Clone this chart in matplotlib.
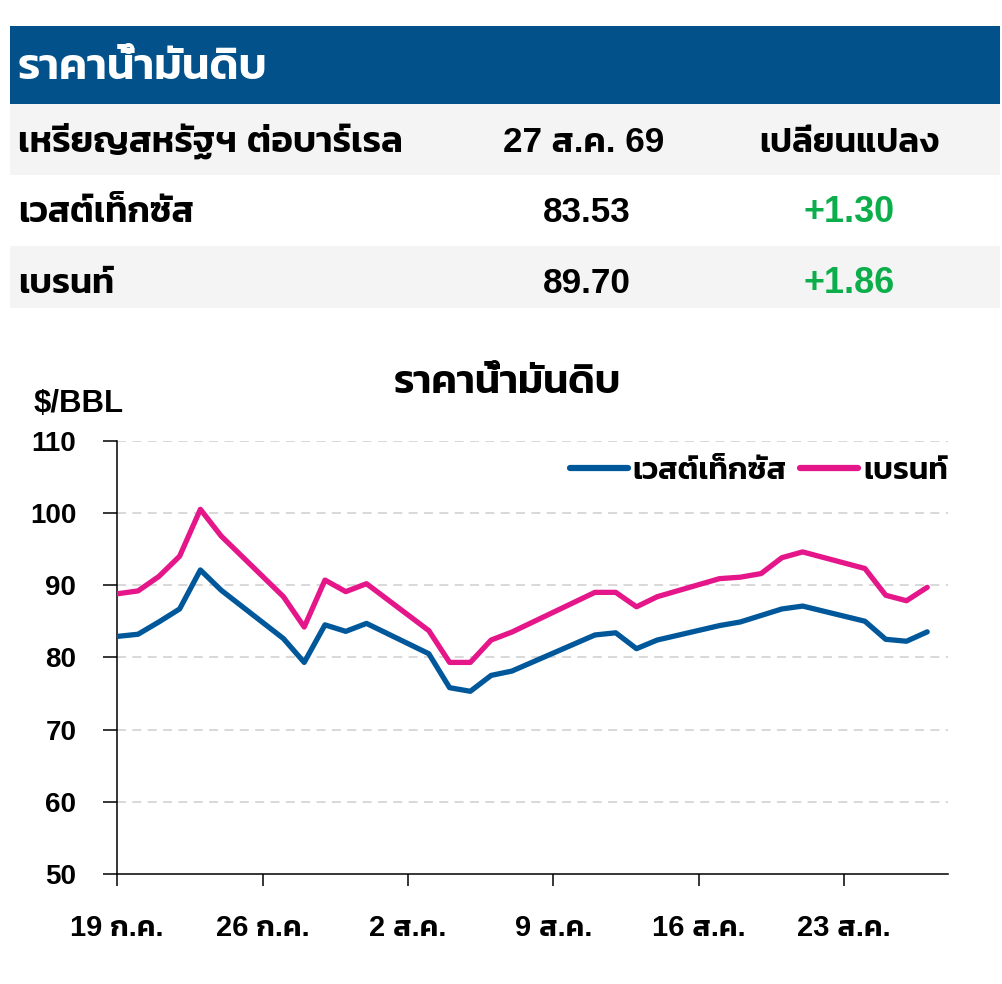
import matplotlib
matplotlib.use("Agg")
import matplotlib.pyplot as plt
from matplotlib.patches import Rectangle
from matplotlib import font_manager as fm
import pandas as pd

# ---------------- data ----------------
dates = ["2026-07-19", "2026-07-20", "2026-07-21", "2026-07-22", "2026-07-23", "2026-07-24",
         "2026-07-27", "2026-07-28", "2026-07-29", "2026-07-30", "2026-07-31",
         "2026-08-03", "2026-08-04", "2026-08-05", "2026-08-06", "2026-08-07",
         "2026-08-11", "2026-08-12", "2026-08-13", "2026-08-14",
         "2026-08-17", "2026-08-18", "2026-08-19", "2026-08-20", "2026-08-21",
         "2026-08-24", "2026-08-25", "2026-08-26", "2026-08-27"]
wti = [82.9, 83.2, 84.9, 86.7, 92.1, 89.3,
       82.6, 79.3, 84.5, 83.6, 84.7,
       80.5, 75.8, 75.3, 77.5, 78.1,
       83.1, 83.4, 81.2, 82.4,
       84.4, 84.9, 85.8, 86.7, 87.1,
       85.0, 82.5, 82.23, 83.53]
brent = [88.8, 89.2, 91.2, 94.0, 100.5, 96.8,
         88.4, 84.2, 90.7, 89.1, 90.2,
         83.7, 79.3, 79.3, 82.4, 83.5,
         89.0, 89.0, 87.0, 88.4,
         90.9, 91.1, 91.6, 93.8, 94.6,
         92.3, 88.6, 87.84, 89.70]
series_names = ["เวสต์เท็กซัส", "เบรนท์"]
tick_dates = ["2026-07-19", "2026-07-26", "2026-08-02", "2026-08-09", "2026-08-16", "2026-08-23"]
tick_labels = ["19 ก.ค.", "26 ก.ค.", "2 ส.ค.", "9 ส.ค.", "16 ส.ค.", "23 ส.ค."]
y_ticks = [50, 60, 70, 80, 90, 100, 110]

table_title = "ราคาน้ำมันดิบ"
table_header = ["เหรียญสหรัฐฯ ต่อบาร์เรล", "27 ส.ค. 69", "เปลี่ยนแปลง"]
table_rows = [["เวสต์เท็กซัส", "83.53", "+1.30"],
              ["เบรนท์", "89.70", "+1.86"]]
chart_title = "ราคาน้ำมันดิบ"
unit_label = "$/BBL"

# ---------------- style ----------------
BLUE_BAND = "#02518a"
WTI_COL = "#00589b"
BRENT_COL = "#e4168a"
GREEN = "#0cad4b"
GRAY_ROW = "#f4f4f4"


def has_font(name):
    try:
        fm.findfont(fm.FontProperties(family=name), fallback_to_default=False)
        return True
    except Exception:
        return False

latin = "Liberation Sans" if has_font("Liberation Sans") else "DejaVu Sans"
thai = "Kanit" if has_font("Kanit") else "Noto Sans Thai"
FAM = [latin, thai, "DejaVu Sans"]
plt.rcParams["font.family"] = FAM
plt.rcParams["font.weight"] = 600

W, H = 1003, 984
fig = plt.figure(figsize=(W / 100, H / 100), dpi=100)
renderer = fig.canvas.get_renderer()


def fx(px):
    return px / W


def fy(py):
    return 1 - py / H


def put(text, x, base, width, ha="left", color="black", size=20, **kw):
    t = fig.text(fx(x), fy(base), text, ha=ha, va="baseline", color=color,
                 fontsize=size, family=FAM, weight=600, **kw)
    bb = t.get_window_extent(renderer)
    if bb.width > 0:
        t.set_fontsize(size * width / bb.width)
    return t

# table backgrounds
fig.add_artist(Rectangle((fx(10), fy(104)), fx(990), 78 / H, transform=fig.transFigure,
                         facecolor=BLUE_BAND, edgecolor="none"))
fig.add_artist(Rectangle((fx(10), fy(175)), fx(990), 71 / H, transform=fig.transFigure,
                         facecolor=GRAY_ROW, edgecolor="none"))
fig.add_artist(Rectangle((fx(10), fy(308)), fx(990), 62 / H, transform=fig.transFigure,
                         facecolor=GRAY_ROW, edgecolor="none"))

put(table_title, 18, 79, 250, color="white", size=30)
put(table_header[0], 18, 151.5, 384)
put(table_header[1], 584, 151.5, 162, ha="center")
put(table_header[2], 849, 151.5, 180, ha="center")
row_base = [221.7, 293]
for r, base in zip(table_rows, row_base):
    put(r[0], 18, base, 176 if r[0] == table_rows[0][0] else 96)
    put(r[1], 586.5, base, 88, ha="center")
    put(r[2], 849.5, base, 91, ha="center", color=GREEN)

put(chart_title, 507, 393, 228, ha="center")
put(unit_label, 34, 411.7, 90)

# ---------------- chart ----------------
ax = fig.add_axes([fx(117.3), fy(874), fx(948 - 117.3), (874 - 440.7) / H])
d = pd.to_datetime(dates)
ax.plot(d, wti, color=WTI_COL, lw=3.8, solid_joinstyle="round", solid_capstyle="round",
        label=series_names[0], zorder=3)
ax.plot(d, brent, color=BRENT_COL, lw=3.8, solid_joinstyle="round", solid_capstyle="round",
        label=series_names[1], zorder=3)

ax.set_ylim(50, 110)
ax.set_xlim(pd.Timestamp("2026-07-19"), pd.Timestamp("2026-08-28"))
ax.set_yticks(y_ticks)
ax.set_xticks(pd.to_datetime(tick_dates))
ax.set_xticklabels(tick_labels)
for lab in ax.get_yticklabels():
    lab.set_family(FAM)
    lab.set_weight(600)
    lab.set_fontsize(20)
for lab in ax.get_xticklabels():
    lab.set_family(FAM)
    lab.set_weight(600)
    lab.set_fontsize(21)
ax.tick_params(axis="y", length=10, width=1.1, pad=19.5, direction="out")
ax.tick_params(axis="x", length=8.6, width=1.1, pad=20.5, direction="out")
for s in ["top", "right"]:
    ax.spines[s].set_visible(False)
for s in ["left", "bottom"]:
    ax.spines[s].set_linewidth(1.1)
for yv in y_ticks[1:]:
    ax.axhline(yv, color="#d6d6d6", lw=1.3, ls=(0, (5, 3.5)), zorder=1)

leg = ax.legend(loc="center right", bbox_to_anchor=(fx(948), fy(471)),
                bbox_transform=fig.transFigure, ncol=2, frameon=False,
                handlelength=1.85, handletextpad=0.15, columnspacing=0.45,
                borderpad=0, borderaxespad=0,
                prop=fm.FontProperties(family=FAM, weight=600, size=22.5))
for line in leg.get_lines():
    line.set_linewidth(4.5)
    line.set_solid_capstyle("round")

fig.savefig("out.png", dpi=100, facecolor="white")
